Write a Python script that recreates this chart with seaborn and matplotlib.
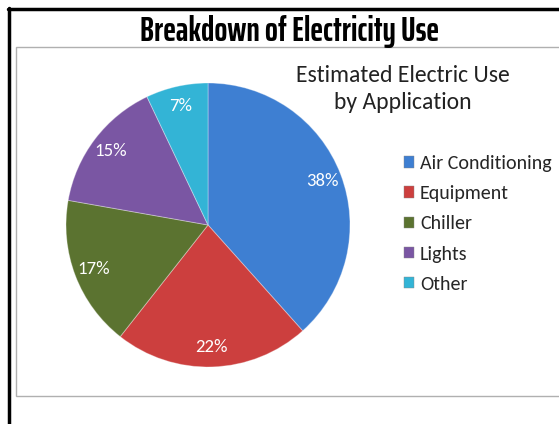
import matplotlib
matplotlib.use("Agg")
import matplotlib.pyplot as plt
import seaborn as sns
import numpy as np
from matplotlib.patches import Rectangle
from matplotlib.lines import Line2D

categories = ["Air Conditioning", "Equipment", "Chiller", "Lights", "Other"]
values = [38, 22, 17, 15, 7]
labels = ["38%", "22%", "17%", "15%", "7%"]
colors = ["#3e7fd2", "#cc3f3e", "#5b7330", "#7a56a3", "#33b4d6"]

sns.set_theme(style="white")
plt.rcParams['font.family'] = ['Carlito', 'DejaVu Sans']

W, H = 559, 424
fig = plt.figure(figsize=(W / 100, H / 100), dpi=100)
fig.patch.set_facecolor("white")

def fx(x): return x / W
def fy(y): return 1 - y / H

# outer black frame (left and top)
fig.add_artist(Line2D([fx(9), fx(9)], [fy(8), fy(424)], color="black", lw=2.5, transform=fig.transFigure))
fig.add_artist(Line2D([fx(8), fx(559)], [fy(9), fy(9)], color="black", lw=2.5, transform=fig.transFigure))
# inner gray chart box
fig.add_artist(Rectangle((fx(16), fy(396)), fx(560) - fx(16), fy(47) - fy(396),
                         transform=fig.transFigure, fill=False, edgecolor="#b0b0b0", lw=1))

fig.text(fx(290), fy(41), "Breakdown of Electricity Use", ha="center", va="baseline",
         fontsize=24.5, fontweight="bold", family=["Saira ExtraCondensed", "Roboto Condensed", "DejaVu Sans"],
         color="black")

fig.text(fx(403), fy(89), "Estimated Electric Use\nby Application", ha="center", va="center",
         fontsize=17, color="#222222", linespacing=1.35)

cx, cy, r = 208, 225, 142
ax = fig.add_axes([fx(cx - r), fy(cy + r), 2 * r / W, 2 * r / H])
wedges, _ = ax.pie(values, colors=colors, startangle=90, counterclock=False,
                   wedgeprops=dict(edgecolor="#ffffff55", linewidth=0.7))
for w, lab in zip(wedges, labels):
    mid = np.deg2rad((w.theta1 + w.theta2) / 2)
    rr = 0.86
    ax.text(rr * np.cos(mid), rr * np.sin(mid), lab, ha="center", va="center",
            color="white", fontsize=13.5)
ax.set_xlim(-1, 1)
ax.set_ylim(-1, 1)
ax.set_aspect("equal")
ax.axis("off")

handles = [Rectangle((0, 0), 1, 1, facecolor=c, edgecolor="#888888", lw=0.3) for c in colors]
fig.legend(handles, categories, loc="upper left", bbox_to_anchor=(fx(404), fy(155)),
           frameon=False, fontsize=14.4, handlelength=0.5, handleheight=0.5,
           handletextpad=0.3, labelspacing=0.66, borderaxespad=0, borderpad=0)

fig.savefig("out.png", dpi=100, facecolor="white")
